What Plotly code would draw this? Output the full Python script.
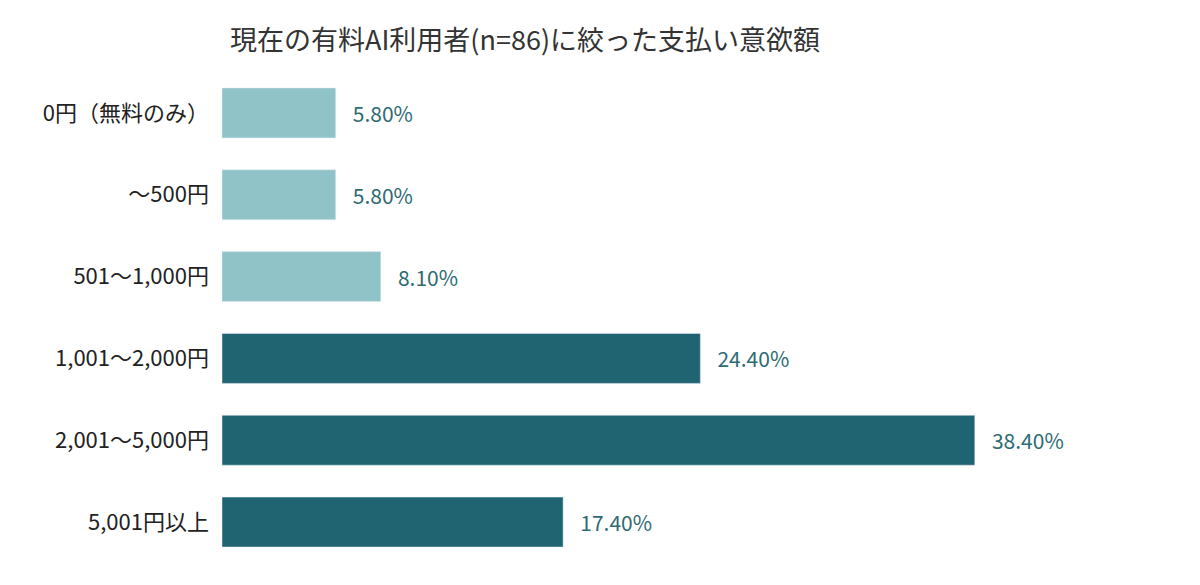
import plotly.graph_objects as go

categories = ["0円（無料のみ）", "～500円", "501～1,000円", "1,001～2,000円", "2,001～5,000円", "5,001円以上"]
values = [5.8, 5.8, 8.1, 24.4, 38.4, 17.4]
labels = ["5.80%", "5.80%", "8.10%", "24.40%", "38.40%", "17.40%"]
colors = ["#8fc3c8", "#8fc3c8", "#8fc3c8", "#1f6470", "#1f6470", "#1f6470"]

fig = go.Figure(go.Bar(
    y=categories, x=values, orientation="h", marker_color=colors,
    text=["   " + t for t in labels], textposition="outside", cliponaxis=False,
    textfont=dict(size=21, color="#2e6b73", family="Noto Sans CJK JP"),
    width=0.61,
))
fig.update_layout(
    width=1200, height=585, plot_bgcolor="white", paper_bgcolor="white",
    margin=dict(l=214, r=45, t=64, b=30),
    title=dict(text="現在の有料AI利用者(n=86)に絞った支払い意欲額", x=0.185, xanchor="left", y=0.945, yanchor="middle",
               font=dict(size=27, color="#333333", family="Noto Sans CJK JP")),
    xaxis=dict(range=[0, 48], visible=False),
    yaxis=dict(autorange="reversed", showline=False, ticks="", ticklabelstandoff=12,
               tickfont=dict(size=22, color="#222222", family="Noto Sans CJK JP")),
    showlegend=False,
)
fig.write_html("out.html")
